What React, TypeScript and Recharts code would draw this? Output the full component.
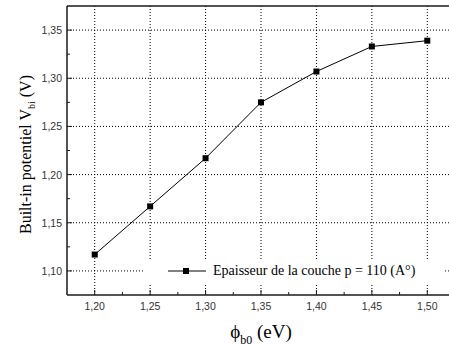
import React from "react";
import { LineChart, Line, XAxis, YAxis, ReferenceLine, Legend } from "recharts";

// data
const phiB0 = [1.2, 1.25, 1.3, 1.35, 1.4, 1.45, 1.5];
const vbi = [1.117, 1.167, 1.217, 1.275, 1.307, 1.333, 1.339];
const seriesName = "Epaisseur de la couche p = 110 (A°)";

const xMajor = [1.2, 1.25, 1.3, 1.35, 1.4, 1.45, 1.5];
const xMinor = [1.225, 1.275, 1.325, 1.375, 1.425, 1.475];
const yMajor = [1.1, 1.15, 1.2, 1.25, 1.3, 1.35];
const yMinor = [1.125, 1.175, 1.225, 1.275, 1.325];

const xDomain: [number, number] = [1.175, 1.525];
const yDomain: [number, number] = [1.075, 1.375];

const data = phiB0.map((x, i) => ({ x, v: vbi[i] }));

const fmt = (v: number) => v.toFixed(2).replace(".", ",");
const isMajor = (list: number[], v: number) => list.some((m) => Math.abs(m - v) < 1e-6);

const TICK_MARGIN = 7;
const axisColor = "#1a1a1a";

const XTick = (props: any) => {
  const { x, y, payload } = props;
  const axisY = y - TICK_MARGIN;
  const major = isMajor(xMajor, payload.value);
  return (
    <g>
      <line x1={x} x2={x} y1={axisY} y2={axisY - (major ? 5 : 3)} stroke={axisColor} strokeWidth={1} />
      {major && (
        <text x={x} y={axisY + 15} textAnchor="middle" fontSize={10.5} fontFamily="Liberation Sans, Arial" fill="#333">
          {fmt(payload.value)}
        </text>
      )}
    </g>
  );
};

const YTick = (props: any) => {
  const { x, y, payload } = props;
  const axisX = x + TICK_MARGIN;
  const major = isMajor(yMajor, payload.value);
  return (
    <g>
      <line x1={axisX} x2={axisX + (major ? 5 : 3)} y1={y} y2={y} stroke={axisColor} strokeWidth={1} />
      {major && (
        <text x={axisX - 5} y={y + 4} textAnchor="end" fontSize={10.5} fontFamily="Liberation Sans, Arial" fill="#333">
          {fmt(payload.value)}
        </text>
      )}
    </g>
  );
};

const SquareDot = (props: any) => {
  const { cx, cy } = props;
  if (cx == null || cy == null) return null;
  return <rect x={cx - 3} y={cy - 3} width={6} height={6} fill="#000" />;
};

const XLabel = (props: any) => {
  const { viewBox } = props;
  const cx = viewBox.x + viewBox.width / 2;
  const by = viewBox.y + 43;
  return (
    <text x={cx} y={by} textAnchor="middle" fontFamily="Liberation Serif, Times New Roman, serif" fontSize={19} fill="#000">
      ϕ
      <tspan fontSize={12} dy={6}>b0</tspan>
      <tspan dy={-6}> (eV)</tspan>
    </text>
  );
};

const YLabel = (props: any) => {
  const { viewBox } = props;
  const cx = 31;
  const cy = viewBox.y + viewBox.height / 2 + 4;
  return (
    <text
      x={cx}
      y={cy}
      transform={`rotate(-90, ${cx}, ${cy})`}
      textAnchor="middle"
      fontFamily="Liberation Serif, Times New Roman, serif"
      fontSize={16}
      fill="#000"
    >
      Built-in potentiel V
      <tspan fontSize={10} dy={4}>bi</tspan>
      <tspan dy={-4}> (V)</tspan>
    </text>
  );
};

const renderLegend = () => (
  <div
    style={{
      display: "flex",
      alignItems: "center",
      background: "#fff",
      height: 24,
      fontFamily: "Liberation Serif, Times New Roman, serif",
      fontSize: 14,
      color: "#000",
    }}
  >
    <svg width={68} height={24} style={{ display: "block" }}>
      <line x1={23} x2={61} y1={12} y2={12} stroke="#000" strokeWidth={1} />
      <rect x={38} y={9} width={6} height={6} fill="#000" />
    </svg>
    <span style={{ whiteSpace: "nowrap" }}>{seriesName}</span>
  </div>
);

export default function App() {
  return (
    <div style={{ position: "fixed", left: 0, top: 0, width: 449, height: 349, overflow: "hidden", background: "#fff" }}>
      <LineChart width={460} height={349} data={data} margin={{ top: 6, right: 5, left: 0, bottom: 0 }}>
        {xMajor.map((v) => (
          <ReferenceLine key={"gx" + v} x={v} stroke="#000" strokeDasharray="1 2" strokeWidth={1} />
        ))}
        {yMajor.map((v) => (
          <ReferenceLine key={"gy" + v} y={v} stroke="#000" strokeDasharray="1 2" strokeWidth={1} />
        ))}
        <ReferenceLine y={yDomain[1]} stroke={axisColor} strokeWidth={1.5} />
        <XAxis
          dataKey="x"
          type="number"
          domain={xDomain}
          ticks={[...xMajor, ...xMinor].sort((a, b) => a - b)}
          interval={0}
          allowDataOverflow
          height={54}
          tickSize={0}
          tickMargin={TICK_MARGIN}
          tickLine={false}
          tick={XTick}
          axisLine={{ stroke: axisColor, strokeWidth: 1.5 }}
          label={{ content: XLabel }}
        />
        <YAxis
          type="number"
          domain={yDomain}
          ticks={[...yMajor, ...yMinor].sort((a, b) => a - b)}
          interval={0}
          allowDataOverflow
          width={67}
          tickSize={0}
          tickMargin={TICK_MARGIN}
          tickLine={false}
          tick={YTick}
          axisLine={{ stroke: axisColor, strokeWidth: 1.5 }}
          label={{ content: YLabel }}
        />
        <Legend
          verticalAlign="middle"
          layout="horizontal"
          content={renderLegend}
          wrapperStyle={{ position: "absolute", left: 145, top: 259, width: 300, height: 24 }}
        />
        <Line
          dataKey="v"
          name={seriesName}
          stroke="#000"
          strokeWidth={1}
          dot={<SquareDot />}
          activeDot={false}
          isAnimationActive={false}
        />
      </LineChart>
    </div>
  );
}
